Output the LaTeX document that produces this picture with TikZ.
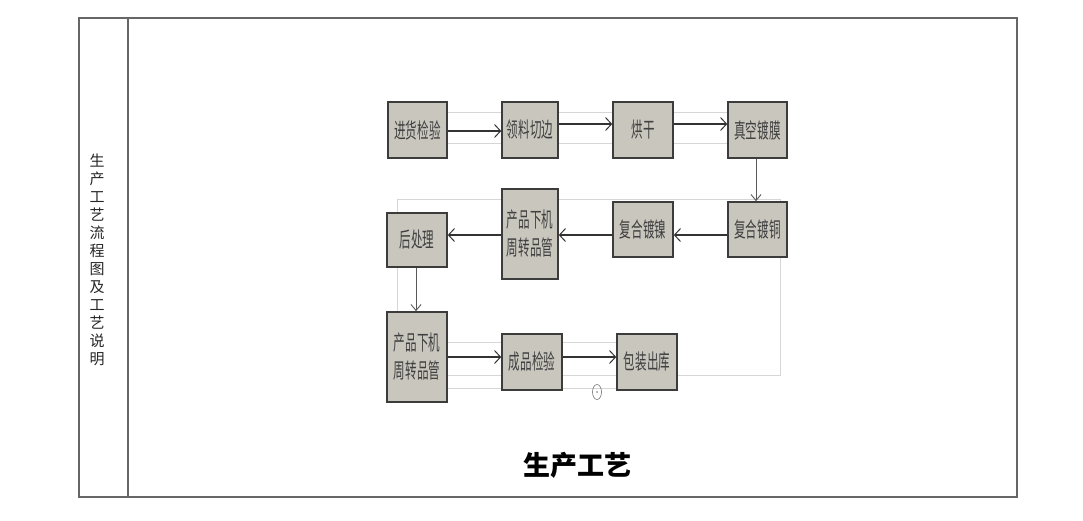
\documentclass[tikz,border=0pt]{standalone}
\usepackage{fontspec}
\newfontfamily\cjk{Noto Sans CJK SC}
\newfontfamily\cjkn[FakeStretch=0.55]{Noto Sans CJK SC}
\usetikzlibrary{arrows.meta,shapes.geometric}
\definecolor{boxfill}{HTML}{C9C6BE}
\definecolor{boxline}{HTML}{3C3C3C}
\definecolor{faint}{HTML}{D6D6D6}
\tikzset{
  stepbox/.style={draw=boxline, line width=1.6pt, fill=boxfill, inner sep=0pt,
    font=\cjkn\fontsize{21}{28}\selectfont, text=black!75, align=center},
  flowarr/.style={draw=black!80, line width=2.2pt, -{Straight Barb[length=6pt,width=13pt,line width=1pt]}},
  downarr/.style={draw=black!65, line width=0.9pt, -{Straight Barb[length=6pt,width=10pt,line width=0.9pt]}},
  ghost/.style={draw=faint, line width=0.8pt},
  frame/.style={draw=black!60, line width=1.3pt}
}
\begin{document}
\begin{tikzpicture}[x=1pt,y=-1pt]
\useasboundingbox (0,0) rectangle (1083,520);
% outer frame
\draw[frame] (79,18) rectangle (1017,497);
\draw[frame] (128,18) -- (128,497);
\node[font=\cjk\fontsize{15}{18}\selectfont, align=center, text=black!85] (side) at (97,260)
  {生\\产\\工\\艺\\流\\程\\图\\及\\工\\艺\\说\\明};
% faint artefacts
\draw[ghost] (397,112) rectangle (778,143);
\draw[ghost] (397,199) rectangle (780,375);
\draw[ghost] (397,342) rectangle (667,388);
\node[draw=black!55, line width=0.6pt, ellipse, minimum width=9pt, minimum height=15pt, inner sep=0pt] (circ) at (597,392) {};
\fill[black!55] (circ.center) circle (0.8pt);
% boxes
\node[stepbox, minimum width=59pt, minimum height=56pt] (A) at (417.5,130) {进货检验};
\node[stepbox, minimum width=56pt, minimum height=56pt] (B) at (530,130) {领料切边};
\node[stepbox, minimum width=60pt, minimum height=56pt] (C) at (643,130) {烘干};
\node[stepbox, minimum width=59pt, minimum height=56pt] (D) at (757.5,130) {真空镀膜};
\node[stepbox, minimum width=59pt, minimum height=55pt] (E) at (757.5,229.5) {复合镀铜};
\node[stepbox, minimum width=60pt, minimum height=55pt] (F) at (643,229.5) {复合镀镍};
\node[stepbox, minimum width=56pt, minimum height=90pt] (G) at (530,234) {产品下机\\周转品管};
\node[stepbox, minimum width=60pt, minimum height=54pt] (H) at (417,240) {后处理};
\node[stepbox, minimum width=60pt, minimum height=90pt] (I) at (417,357) {产品下机\\周转品管};
\node[stepbox, minimum width=60pt, minimum height=56pt] (J) at (532,362) {成品检验};
\node[stepbox, minimum width=60pt, minimum height=56pt] (K) at (647,362) {包装出库};
% connectors
\draw[flowarr] ([yshift=-1pt]A.east) -- ([yshift=-1pt]B.west);
\draw[flowarr] ([yshift=6pt]B.east) -- ([yshift=6pt]C.west);
\draw[flowarr] ([yshift=6pt]C.east) -- ([yshift=6pt]D.west);
\draw[downarr] ([xshift=-1.5pt]D.south) -- ([xshift=-1.5pt]E.north);
\draw[flowarr] ([yshift=-5.5pt]E.west) -- ([yshift=-5.5pt]F.east);
\draw[flowarr] ([yshift=-5.5pt]F.west) -- ([yshift=-1pt]G.east);
\draw[flowarr] ([yshift=-1pt]G.west) -- ([yshift=5pt]H.east);
\draw[downarr] ([xshift=-1pt]H.south) -- ([xshift=-1pt]I.north);
\draw[flowarr] (I.east) -- ([yshift=5pt]J.west);
\draw[flowarr] ([yshift=5pt]J.east) -- ([yshift=5pt]K.west);
% title
\node[font=\cjk\bfseries\fontsize{27}{30}\selectfont] (title) at (577,465) {生产工艺};
\end{tikzpicture}
\end{document}
